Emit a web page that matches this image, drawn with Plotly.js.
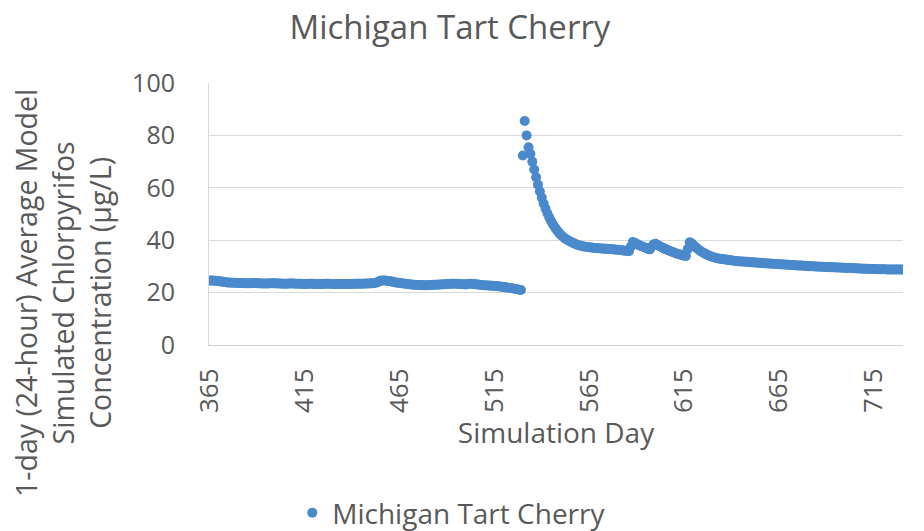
<!DOCTYPE html>
<html>
<head>
<meta charset="utf-8">
<script src="https://cdn.plot.ly/plotly-3.0.1.min.js"></script>
<style>html,body{margin:0;padding:0;background:#fff;}#chart{width:924px;height:531px;}</style>
</head>
<body>
<div id="chart"></div>
<script>
// Chart data
const seriesName = "Michigan Tart Cherry";
const firstDay = 365;
// Daily 1-day average concentration (µg/L), simulation days 365..529
const concPart1 = [
  24.6, 24.6, 24.5, 24.5, 24.4, 24.3, 24.2, 24.1, 24.0, 23.9,
  23.9, 23.8, 23.8, 23.8, 23.7, 23.7, 23.7, 23.7, 23.6, 23.6,
  23.6, 23.6, 23.6, 23.7, 23.7, 23.6, 23.6, 23.5, 23.5, 23.5,
  23.5, 23.5, 23.6, 23.6, 23.6, 23.5, 23.5, 23.5, 23.4, 23.4,
  23.4, 23.4, 23.5, 23.5, 23.5, 23.4, 23.4, 23.4, 23.4, 23.3,
  23.3, 23.3, 23.4, 23.4, 23.4, 23.3, 23.3, 23.3, 23.3, 23.3,
  23.3, 23.4, 23.4, 23.4, 23.3, 23.3, 23.3, 23.3, 23.3, 23.3,
  23.3, 23.3, 23.3, 23.3, 23.3, 23.3, 23.4, 23.4, 23.4, 23.4,
  23.4, 23.4, 23.5, 23.5, 23.5, 23.6, 23.6, 23.7, 23.9, 24.2,
  24.5, 24.6, 24.6, 24.5, 24.4, 24.3, 24.2, 24.0, 23.9, 23.8,
  23.7, 23.6, 23.5, 23.4, 23.3, 23.2, 23.1, 23.0, 23.0, 22.9,
  22.9, 22.9, 22.8, 22.8, 22.8, 22.8, 22.9, 22.9, 23.0, 23.0,
  23.0, 23.1, 23.1, 23.2, 23.2, 23.3, 23.3, 23.4, 23.4, 23.4,
  23.4, 23.3, 23.3, 23.2, 23.2, 23.1, 23.3, 23.4, 23.4, 23.3,
  23.2, 23.1, 23.0, 22.9, 22.8, 22.8, 22.7, 22.7, 22.6, 22.6,
  22.5, 22.5, 22.4, 22.3, 22.2, 22.1, 22.0, 21.9, 21.8, 21.7,
  21.6, 21.4, 21.3, 21.1, 21.0
];
// Simulation days 530..730
const concPart2 = [
  72.3, 85.5, 80.0, 75.5, 73.0, 70.0, 67.0, 64.0, 61.2, 58.6,
  56.2, 54.0, 52.0, 50.2, 48.6, 47.2, 45.9, 44.8, 43.8, 42.9,
  42.1, 41.4, 40.8, 40.3, 39.9, 39.5, 39.1, 38.8, 38.5, 38.2,
  38.0, 37.8, 37.6, 37.5, 37.4, 37.3, 37.2, 37.1, 37.0, 36.9,
  36.9, 36.8, 36.8, 36.7, 36.7, 36.6, 36.6, 36.5, 36.5, 36.4,
  36.4, 36.3, 36.2, 36.1, 36.0, 35.9, 35.8, 37.6, 39.3, 39.0,
  38.6, 38.2, 37.9, 37.6, 37.3, 37.0, 36.7, 36.5, 37.6, 38.4,
  38.6, 38.2, 37.8, 37.4, 37.0, 36.7, 36.4, 36.1, 35.8, 35.5,
  35.2, 34.9, 34.7, 34.5, 34.3, 34.1, 34.0, 36.6, 39.2, 38.8,
  38.1, 37.4, 36.8, 36.2, 35.7, 35.3, 34.9, 34.5, 34.2, 33.9,
  33.6, 33.4, 33.2, 33.0, 32.9, 32.8, 32.7, 32.6, 32.5, 32.4,
  32.3, 32.2, 32.1, 32.0, 31.95, 31.9, 31.85, 31.8, 31.75, 31.7,
  31.6, 31.55, 31.5, 31.45, 31.4, 31.35, 31.3, 31.25, 31.2, 31.15,
  31.1, 31.05, 31.0, 30.95, 30.9, 30.85, 30.8, 30.75, 30.7, 30.65,
  30.6, 30.55, 30.5, 30.45, 30.4, 30.35, 30.3, 30.3, 30.25, 30.2,
  30.15, 30.1, 30.1, 30.05, 30.0, 29.95, 29.9, 29.9, 29.85, 29.8,
  29.8, 29.75, 29.7, 29.7, 29.65, 29.6, 29.6, 29.55, 29.5, 29.5,
  29.45, 29.4, 29.4, 29.35, 29.3, 29.3, 29.25, 29.2, 29.2, 29.15,
  29.1, 29.1, 29.1, 29.05, 29.0, 29.0, 29.0, 28.95, 28.95, 28.9,
  28.9, 28.9, 28.85, 28.85, 28.85, 28.8, 28.8, 28.8, 28.8, 28.8,
  28.8
];
const xTickValues = [365, 415, 465, 515, 565, 615, 665, 715];
const yTickValues = [0, 20, 40, 60, 80, 100];

const concentration = concPart1.concat(concPart2);
const days = concentration.map((_, i) => firstDay + i);

const textColor = "#595959";
const fontFamily = "Open Sans, Lato, sans-serif";

const trace = {
  type: "scatter",
  mode: "markers",
  name: seriesName,
  x: days,
  y: concentration,
  marker: { color: "#4a89cc", size: 10 },
  showlegend: true
};

const layout = {
  width: 924,
  height: 531,
  margin: { l: 209, r: 21, t: 83, b: 186 },
  paper_bgcolor: "#ffffff",
  plot_bgcolor: "#ffffff",
  font: { family: fontFamily, color: textColor, size: 25 },
  title: {
    text: "Michigan Tart Cherry",
    font: { family: fontFamily, size: 33, color: textColor },
    x: 0.487, xref: "container", xanchor: "center",
    y: 0.949, yref: "container", yanchor: "middle"
  },
  xaxis: {
    range: [364.5, 730.5],
    tickmode: "array",
    tickvals: xTickValues,
    ticktext: xTickValues.map(String),
    tickangle: -90,
    ticks: "",
    ticklabelstandoff: 12,
    showgrid: false,
    zeroline: false,
    showline: true,
    linecolor: "#d0d0d0",
    linewidth: 1,
    automargin: false,
    tickfont: { size: 26, color: textColor },
    title: { text: "Simulation Day", font: { size: 28, color: textColor }, standoff: 10 },
    fixedrange: true
  },
  yaxis: {
    range: [0, 100],
    tickmode: "array",
    tickvals: yTickValues,
    ticktext: yTickValues.map(String),
    ticks: "",
    ticklabelstandoff: 28,
    showgrid: true,
    gridcolor: "#d9d9d9",
    gridwidth: 1,
    zeroline: false,
    showline: true,
    linecolor: "#d9d9d9",
    linewidth: 1,
    automargin: false,
    tickfont: { size: 25, color: textColor },
    fixedrange: true
  },
  showlegend: true,
  legend: {
    orientation: "h",
    xref: "paper", x: 0.12, xanchor: "left",
    yref: "container", y: 0.034, yanchor: "middle",
    font: { size: 28, color: textColor },
    bgcolor: "rgba(0,0,0,0)"
  },
  annotations: [{
    text: "1-day (24-hour) Average Model<br>Simulated Chlorpyrifos<br>Concentration (µg/L)",
    xref: "paper", yref: "paper",
    x: -0.2104, y: 0.1985,
    xanchor: "center", yanchor: "middle",
    textangle: -90,
    showarrow: false,
    font: { size: 28.5, color: textColor, family: fontFamily }
  }]
};

Plotly.newPlot("chart", [trace], layout, { displayModeBar: false, staticPlot: true });
</script>
</body>
</html>
